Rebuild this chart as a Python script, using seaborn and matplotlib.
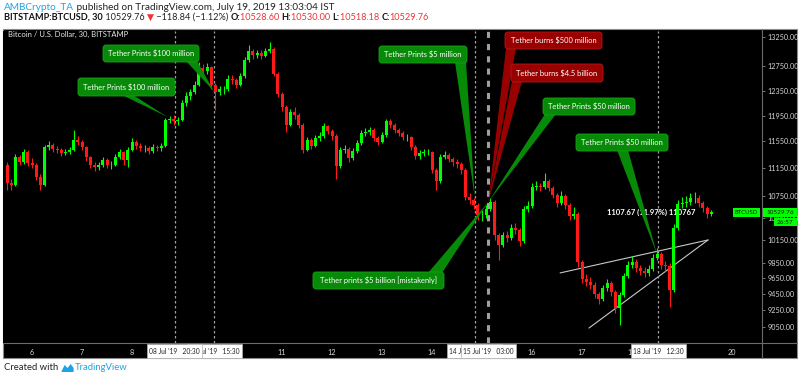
import numpy as np
import pandas as pd
import matplotlib
matplotlib.use('Agg')
import matplotlib.pyplot as plt
import matplotlib.dates as mdates
import matplotlib.patches as mpatches
import matplotlib.transforms as mtransforms
from matplotlib.lines import Line2D
from matplotlib.ticker import FuncFormatter, NullLocator
import seaborn as sns

first_open = 11199
closes = [10937, 10909, 11317, 11243, 11392, 11228, 11199, 11024, 10909, 11467,
          11497, 11437, 11422, 11377, 11392, 11422, 11572, 11542, 11467, 11317,
          11199, 11170, 11199, 11273, 11199, 11199, 11317, 11392, 11273, 11422,
          11542, 11482, 11452, 11452, 11407, 11467, 11452, 11482, 11881, 11896,
          11865, 11881, 12149, 12263, 12330, 12444, 12721, 12671, 12738, 12444,
          12330, 12377, 12377, 12538, 12522, 12444, 12588, 12856, 13009, 12940,
          12974, 12923, 13009, 13043, 12621, 12296, 12086, 11803, 12006, 11958,
          11803, 11422, 11572, 11482, 11603, 11633, 11788, 11710, 11633, 11184,
          11422, 11437, 11302, 11407, 11527, 11679, 11695, 11726, 11603, 11542,
          11649, 11865, 11803, 11726, 11679, 11618, 11618, 11467, 11332, 11377,
          11392, 11392, 11126, 10966, 11317, 11347, 11288, 11243, 11213, 11126,
          10738, 10696, 10625, 10487, 10487, 10570, 10667, 10214, 10080, 10214,
          10174, 10309, 10282, 10134, 10570, 10611, 10880, 10894, 10880, 10966,
          10866, 10766, 10653, 10752, 10625, 10473, 10501, 9858, 9640, 9602,
          9564, 9451, 9391, 9526, 9589, 9476, 9279, 9439, 9678, 9819,
          9858, 9780, 9742, 9717, 9768, 9910, 9962, 9819, 9806, 9501,
          10309, 10639, 10653, 10667, 10724, 10724, 10653, 10584, 10501, 10530]
highs = [11240, 10990, 11360, 11350, 11440, 11420, 11300, 11230, 11060, 11500,
         11560, 11530, 11480, 11450, 11440, 11470, 11720, 11640, 11570, 11480,
         11330, 11240, 11250, 11320, 11300, 11260, 11360, 11440, 11410, 11470,
         11600, 11570, 11520, 11500, 11480, 11510, 11500, 11530, 11920, 11950,
         11960, 11930, 12200, 12320, 12380, 12500, 12830, 12780, 12800, 12760,
         12470, 12430, 12430, 12600, 12600, 12560, 12640, 12900, 13110, 13040,
         13030, 13020, 13060, 13170, 13080, 12650, 12330, 12120, 12060, 12080,
         11990, 11830, 11620, 11600, 11650, 11700, 11840, 11810, 11740, 11660,
         11470, 11490, 11460, 11450, 11570, 11730, 11750, 11770, 11750, 11640,
         11700, 11900, 11890, 11830, 11760, 11710, 11670, 11640, 11490, 11420,
         11440, 11440, 11410, 11150, 11360, 11400, 11380, 11320, 11290, 11240,
         11150, 10790, 10730, 10660, 10560, 10620, 10720, 10690, 10240, 10260,
         10270, 10360, 10380, 10310, 10610, 10680, 10930, 10960, 10940, 11080,
         11000, 10900, 10800, 10820, 10780, 10650, 10600, 10530, 9890, 9700,
         9660, 9600, 9480, 9570, 9640, 9620, 9500, 9480, 9720, 9870,
         9940, 9900, 9820, 9790, 9820, 9960, 10040, 9990, 9870, 9840,
         10360, 10700, 10740, 10750, 10800, 10810, 10760, 10680, 10610, 10560]
lows = [10840, 10840, 10890, 11200, 11220, 11180, 11150, 10980, 10830, 10890,
        11420, 11390, 11370, 11330, 11340, 11360, 11400, 11500, 11420, 11260,
        11150, 11110, 11130, 11170, 11150, 11140, 11180, 11290, 11200, 11170,
        11400, 11440, 11400, 11390, 11360, 11380, 11400, 11410, 11460, 11830,
        11810, 11800, 11860, 12100, 12200, 12290, 12420, 12600, 12620, 12380,
        12040, 12280, 12300, 12350, 12460, 12390, 12420, 12560, 12830, 12880,
        12890, 12870, 12900, 12980, 12580, 12250, 12030, 11690, 11780, 11900,
        11760, 11370, 11400, 11430, 11460, 11560, 11610, 11660, 11580, 11000,
        11150, 11380, 11240, 11270, 11380, 11500, 11630, 11650, 11560, 11490,
        11520, 11620, 11760, 11680, 11630, 11570, 11560, 11420, 11280, 11290,
        11330, 11340, 11080, 10830, 10940, 11280, 11240, 11190, 11160, 11070,
        10700, 10640, 10570, 10420, 10400, 10440, 10540, 10150, 9880, 10050,
        10120, 10150, 10230, 10070, 10110, 10530, 10590, 10830, 10820, 10850,
        10820, 10720, 10600, 10620, 10570, 10420, 10430, 9800, 9590, 9550,
        9510, 9400, 9330, 9360, 9490, 9430, 9220, 9070, 9420, 9650,
        9780, 9730, 9690, 9660, 9680, 9740, 9880, 9770, 9740, 9290,
        9480, 10280, 10590, 10600, 10630, 10660, 10600, 10530, 10440, 10470]
start = '2019-07-05 12:00'

price_ticks = [9050, 9250, 9450, 9650, 9850, 10150, 10450, 10750, 11150,
               11550, 11950, 12350, 12750, 13250]
day_ticks = pd.date_range('2019-07-06', '2019-07-20', freq='D')

event_times = ['2019-07-09 15:30', '2019-07-08 20:30', '2019-07-14 20:30',
               '2019-07-15 03:00', '2019-07-18 12:30']
event_labels = ["09 Jul '19   15:30", "08 Jul '19   20:30", "14 Jul '19   20:30",
                "15 Jul '19   03:00", "18 Jul '19   12:30"]

callout_text = ['Tether Prints $100 million', 'Tether Prints $100 million',
                'Tether Prints $5 million', 'Tether burns $500 million',
                'Tether burns $4.5 billion', 'Tether Prints $50 million',
                'Tether Prints $50 million', 'Tether prints $5 billion [mistakenly]']
callout_time = ['2019-07-08 17:00', '2019-07-09 15:30', '2019-07-14 20:30',
                '2019-07-15 03:00', '2019-07-15 03:00', '2019-07-15 03:00',
                '2019-07-18 12:00', '2019-07-15 03:00']
callout_price = [11930, 12330, 10740, 10667, 10667, 10667, 9960, 10667]
callout_kind = ['print', 'print', 'print', 'burn', 'burn', 'print', 'print', 'print']

trend_time = ['2019-07-16 13:30', '2019-07-19 12:30', '2019-07-17 03:20', '2019-07-19 12:30']
trend_price = [9718, 10148, 9039, 10148]
trend_id = ['upper', 'upper', 'lower', 'lower']

sns.set_style('dark')
plt.rcParams['font.family'] = ['Lato', 'DejaVu Sans']

W, H = 800, 378
fig = plt.figure(figsize=(W / 100, H / 100), dpi=100)
fig.patch.set_facecolor('white')
# pixel coordinates, origin top-left
px = mtransforms.Affine2D().scale(1 / W, -1 / H).translate(0, 1) + fig.transFigure

fig.add_artist(mpatches.Rectangle((3, 29), 794, 329, transform=px, facecolor='black',
                                  edgecolor='#8a8a8a', lw=0.8, zorder=-1))

ax = fig.add_axes([3 / W, 1 - 343 / H, 759 / W, 312 / H])
ax.set_facecolor('black')
for s in ax.spines.values():
    s.set_visible(False)

# candles
t = pd.date_range(start, periods=len(closes), freq='2h')
x = mdates.date2num(t)
o = np.array([first_open] + closes[:-1], dtype=float)
c = np.array(closes, dtype=float)
colors = np.where(c >= o, '#00ff00', '#ff1a1a')
ax.vlines(x, lows, highs, colors=colors, lw=0.8, zorder=3)
ax.bar(x, np.abs(c - o), bottom=np.minimum(o, c), width=0.06, color=colors, lw=0, zorder=3)

# trend lines
trend = pd.DataFrame({'time': mdates.date2num(pd.to_datetime(trend_time)),
                      'price': trend_price, 'line': trend_id})
sns.lineplot(data=trend, x='time', y='price', units='line', estimator=None,
             color='#c8c8c8', lw=0.8, ax=ax, legend=False, zorder=2)

# event lines
for tt in event_times:
    lw = 2.2 if tt == '2019-07-15 03:00' else 0.9
    ax.axvline(mdates.date2num(pd.Timestamp(tt)), color='#a0a0a0', ls=(0, (2, 2)), lw=lw, zorder=2)

ax.set_yscale('log')
ax.set_ylim(8863, 13355)
day0 = mdates.date2num(pd.Timestamp('2019-07-06'))
ax.set_xlim(day0 - 29 / 50, day0 + 730 / 50)
ax.set_xlabel('')
ax.set_ylabel('')
ax.grid(False)

ax.yaxis.tick_right()
ax.set_yticks(price_ticks)
ax.yaxis.set_minor_locator(NullLocator())
ax.yaxis.set_major_formatter(FuncFormatter(lambda v, _: f'{v:.2f}'))
ax.set_xticks(mdates.date2num(day_ticks))
ax.set_xticklabels([str(d.day) for d in day_ticks])
ax.xaxis.set_minor_locator(NullLocator())
ax.tick_params(axis='y', length=2.5, width=0.6, color='#8a8a8a', labelcolor='#d6d6d6',
               labelsize=5.2, pad=1.5)
ax.tick_params(axis='x', length=2.5, width=0.6, color='#8a8a8a', labelcolor='#d6d6d6',
               labelsize=5.2, pad=1.5)

# separators
fig.add_artist(Line2D([762, 762], [29, 358], transform=px, color='#6a6a6a', lw=0.8, zorder=1))
fig.add_artist(Line2D([3, 797], [343, 343], transform=px, color='#6a6a6a', lw=0.8, zorder=1))

ax.text(651, 212, '1107.67 (11.97%) 110767', transform=px, color='white', fontsize=5.5,
        fontweight='bold', ha='center', va='center', zorder=2)
ax.text(8, 34, 'Bitcoin / U.S. Dollar, 30, BITSTAMP', transform=px, color='#e8e8e8',
        fontsize=5.5, ha='left', va='center', zorder=5)


def to_px(time, price):
    dx, dy = ax.transData.transform((mdates.date2num(pd.Timestamp(time)), price))
    return dx, H - dy


# callout bubbles
boxes = [(78, 78, 175, 96), (103, 45, 199, 62), (379, 46, 467, 63), (505, 32, 602, 49),
         (511, 64, 603, 82), (543, 98, 635, 115), (576, 134, 668, 151), (313, 272, 444, 289)]
bases = [(122, 133, 95), (186, 197, 61), (455, 466, 62), (506, 516, 48),
         (512, 522, 81), (545, 556, 114), (617, 628, 150), (428, 442, 273)]
for k, (txt, tm, pr, kind, (x0, y0, x1, y1), (ba, bb, by)) in enumerate(zip(
        callout_text, callout_time, callout_price, callout_kind, boxes, bases)):
    fill = '#078a07' if kind == 'print' else '#990000'
    edge = '#16a416' if kind == 'print' else '#b51a1a'
    tip = to_px(tm, pr)
    fig.add_artist(mpatches.Polygon([(ba, by), (bb, by), tip], closed=True, transform=px,
                                    facecolor=fill, edgecolor='none', zorder=4))
    fig.add_artist(mpatches.FancyBboxPatch((x0, y0), x1 - x0, y1 - y0,
                                           boxstyle='round,pad=0,rounding_size=3',
                                           transform=px, facecolor=fill, edgecolor=edge,
                                           lw=0.6, zorder=5))
    fig.text((x0 + x1) / 2, (y0 + y1) / 2, txt.replace('$', r'\$'), transform=px,
             color='white', fontsize=5.4, ha='center', va='center', zorder=6)

# time axis markers, later ones on top of earlier ones
for k, (tt, lab) in enumerate(zip(event_times, event_labels)):
    cx, _ = to_px(tt, 10000)
    fig.add_artist(mpatches.Rectangle((cx - 27.5, 344), 55, 14, transform=px, facecolor='white',
                                      edgecolor='#b0b0b0', lw=0.5, zorder=10 + 2 * k))
    fig.text(cx, 351, lab, transform=px, color='#222222', fontsize=4.8,
             ha='center', va='center', zorder=11 + 2 * k)

# last price labels
for (bx, by, bw, bh), lab, fs in [((733, 208, 27, 9), 'BTCUSD', 4.2),
                                  ((763, 208, 34, 9), '10529.76', 4.6),
                                  ((774, 218, 23, 8), '26:57', 4.6)]:
    fig.add_artist(mpatches.Rectangle((bx, by), bw, bh, transform=px, facecolor='#00ff00',
                                      edgecolor='none', zorder=30))
    fig.text(bx + bw / 2, by + bh / 2, lab, transform=px, color='#111111', fontsize=fs,
             ha='center', va='center', zorder=31)

# header and footer
renderer = fig.canvas.get_renderer()


def text_run(xs, ys, pieces, size):
    for s, color, weight in pieces:
        tx = fig.text(xs, ys, s, transform=px, color=color, fontsize=size,
                      fontweight=weight, ha='left', va='center')
        xs += tx.get_window_extent(renderer=renderer).width
    return xs


red = '#ee3333'
text_run(4, 7, [('AMBCrypto_TA', '#1ea4e6', 'normal'),
                (' published on TradingView.com, July 19, 2019 13:03:04 IST', '#222222', 'normal')], 7.2)
text_run(4, 17, [('BITSTAMP:BTCUSD, 30', '#111111', 'bold'),
                 (' 10529.76 ', '#222222', 'normal'),
                 ('\u25bc', red, 'normal'),
                 (' \u2212118.84 (\u22121.12%) ', '#222222', 'normal'),
                 ('O:', '#111111', 'bold'), ('10528.60 ', red, 'normal'),
                 ('H:', '#111111', 'bold'), ('10530.00 ', red, 'normal'),
                 ('L:', '#111111', 'bold'), ('10518.18 ', red, 'normal'),
                 ('C:', '#111111', 'bold'), ('10529.76', red, 'normal')], 6.6)
xe = text_run(4, 368, [('Created with ', '#222222', 'normal')], 6.8)
fig.add_artist(mpatches.Polygon([(xe + 1, 371), (xe + 4, 365), (xe + 7, 368), (xe + 10, 364),
                                 (xe + 13, 368), (xe + 13, 372), (xe + 1, 372)],
                                closed=True, transform=px, facecolor='#1ea4e6', edgecolor='none'))
text_run(xe + 14, 368, [('TradingView', '#1ea4e6', 'normal')], 6.8)

fig.savefig('out.png', dpi=100, facecolor='white')
